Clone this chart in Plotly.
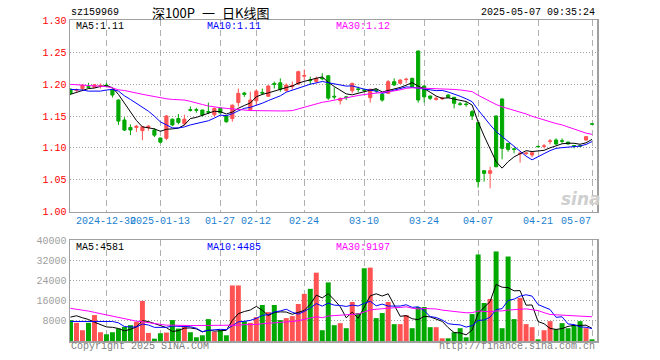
import plotly.graph_objects as go
import pandas as pd

W, H = 660, 360

dates = [
    "2024-12-20", "2024-12-23", "2024-12-24", "2024-12-25", "2024-12-26", "2024-12-27", "2024-12-30", "2024-12-31",
    "2025-01-02", "2025-01-03", "2025-01-06", "2025-01-07", "2025-01-08", "2025-01-09", "2025-01-10", "2025-01-13",
    "2025-01-14", "2025-01-15", "2025-01-16", "2025-01-17", "2025-01-20", "2025-01-21", "2025-01-22", "2025-01-23",
    "2025-01-24", "2025-01-27",
    "2025-02-05", "2025-02-06", "2025-02-07", "2025-02-10", "2025-02-11", "2025-02-12", "2025-02-13", "2025-02-14",
    "2025-02-17", "2025-02-18", "2025-02-19", "2025-02-20", "2025-02-21", "2025-02-24", "2025-02-25", "2025-02-26",
    "2025-02-27", "2025-02-28",
    "2025-03-03", "2025-03-04", "2025-03-05", "2025-03-06", "2025-03-07", "2025-03-10", "2025-03-11", "2025-03-12",
    "2025-03-13", "2025-03-14", "2025-03-17", "2025-03-18", "2025-03-19", "2025-03-20", "2025-03-21", "2025-03-24",
    "2025-03-25", "2025-03-26", "2025-03-27", "2025-03-28", "2025-03-31",
    "2025-04-01", "2025-04-02", "2025-04-03", "2025-04-07", "2025-04-08", "2025-04-09", "2025-04-10", "2025-04-11",
    "2025-04-14", "2025-04-15", "2025-04-16", "2025-04-17", "2025-04-18", "2025-04-21", "2025-04-22", "2025-04-23",
    "2025-04-24", "2025-04-25", "2025-04-28", "2025-04-29", "2025-04-30",
    "2025-05-06", "2025-05-07",
]

opens = [
    1.192, 1.190, 1.193, 1.196, 1.195, 1.197, 1.1985, 1.1917, 1.175, 1.1437,
    1.132, 1.132, 1.127, 1.132, 1.128, 1.1155, 1.115, 1.145, 1.146, 1.138,
    1.160, 1.160, 1.1594, 1.157, 1.152, 1.162, 1.150, 1.146, 1.171, 1.186,
    1.160, 1.174, 1.187, 1.181, 1.201, 1.202, 1.190, 1.196, 1.200, 1.2125,
    1.2065, 1.204, 1.2095, 1.213, 1.181, 1.174, 1.180, 1.1897, 1.1925, 1.191,
    1.1787, 1.191, 1.184, 1.1855, 1.2038, 1.2012, 1.2070, 1.209, 1.2519, 1.197,
    1.1813, 1.176, 1.177, 1.1829, 1.1793, 1.169, 1.1688, 1.1568, 1.1396, 1.0643,
    1.0601, 1.150, 1.1767, 1.1071, 1.0985, 1.0905, 1.0910, 1.0889, 1.1024, 1.1025,
    1.1103, 1.1124, 1.1112, 1.1092, 1.1035, 1.1033, 1.1124, 1.1377,
]
highs = [
    1.193, 1.193, 1.199, 1.202, 1.200, 1.201, 1.202, 1.193, 1.176, 1.148,
    1.137, 1.136, 1.134, 1.136, 1.131, 1.116, 1.1515, 1.146, 1.153, 1.152,
    1.165, 1.163, 1.1594, 1.171, 1.163, 1.163, 1.151, 1.168, 1.193, 1.188,
    1.188, 1.192, 1.193, 1.198, 1.204, 1.209, 1.201, 1.204, 1.221, 1.223,
    1.2117, 1.212, 1.217, 1.214, 1.195, 1.179, 1.181, 1.202, 1.196, 1.193,
    1.193, 1.193, 1.185, 1.2064, 1.209, 1.2075, 1.2100, 1.210, 1.2525, 1.1985,
    1.182, 1.181, 1.180, 1.184, 1.180, 1.172, 1.172, 1.1594, 1.140, 1.0645,
    1.0706, 1.151, 1.1775, 1.1075, 1.0993, 1.0941, 1.0941, 1.0930, 1.1035, 1.1061,
    1.1140, 1.1150, 1.1150, 1.1095, 1.1045, 1.1040, 1.1180, 1.1377,
]
lows = [
    1.183, 1.188, 1.189, 1.193, 1.194, 1.193, 1.195, 1.179, 1.136, 1.1265,
    1.120, 1.125, 1.112, 1.127, 1.117, 1.107, 1.112, 1.134, 1.137, 1.135,
    1.157, 1.155, 1.149, 1.153, 1.149, 1.154, 1.1395, 1.141, 1.1646, 1.180,
    1.158, 1.167, 1.183, 1.180, 1.193, 1.188, 1.188, 1.191, 1.199, 1.206,
    1.1986, 1.201, 1.206, 1.175, 1.176, 1.168, 1.175, 1.1855, 1.187, 1.188,
    1.171, 1.1855, 1.1725, 1.1845, 1.197, 1.200, 1.2012, 1.195, 1.171, 1.171,
    1.175, 1.174, 1.175, 1.178, 1.162, 1.166, 1.1645, 1.1437, 1.0377, 1.0471,
    1.0366, 1.0695, 1.0821, 1.0941, 1.0915, 1.0769, 1.0889, 1.0852, 1.1010, 1.0993,
    1.1056, 1.1045, 1.1070, 1.1055, 1.0993, 1.1020, 1.1110, 1.1373,
]
closes = [
    1.1855, 1.191, 1.1985, 1.195, 1.199, 1.198, 1.197, 1.1829, 1.142, 1.128,
    1.128, 1.134, 1.133, 1.134, 1.120, 1.109, 1.150, 1.136, 1.140, 1.145,
    1.159, 1.159, 1.1516, 1.156, 1.162, 1.155, 1.141, 1.167, 1.1855, 1.184,
    1.175, 1.189, 1.186, 1.197, 1.1995, 1.192, 1.1985, 1.198, 1.2195, 1.2135,
    1.2055, 1.209, 1.2085, 1.178, 1.180, 1.1777, 1.179, 1.2012, 1.1915, 1.190,
    1.1918, 1.190, 1.175, 1.2038, 1.1986, 1.2064, 1.2075, 1.1959, 1.1751, 1.180,
    1.1777, 1.1777, 1.178, 1.1793, 1.1699, 1.1685, 1.168, 1.150, 1.0471, 1.0601,
    1.0643, 1.0706, 1.0993, 1.0977, 1.0977, 1.0915, 1.0920, 1.0925, 1.1019, 1.1030,
    1.1108, 1.1061, 1.1105, 1.1061, 1.1029, 1.1028, 1.1176, 1.1373,
]
volumes = [
    8270, 7200, 4270, 7200, 10260, 3470, 2670, 3470, 4930, 5600,
    6270, 7600, 15860, 3200, 930, 3070, 3330, 8270, 4930, 5870,
    3470, 1470, 2270, 8670, 3600, 4270, 2270, 22000, 22000, 7870,
    7200, 9460, 14260, 11460, 14260, 8270, 9060, 9860, 14660, 18660,
    20660, 27060, 4270, 23200, 6270, 7070, 5070, 15460, 11060, 28800,
    29060, 9060, 11060, 15460, 6670, 6670, 10260, 5070, 13460, 13460,
    5470, 5470, 1070, 1070, 3470, 5070, 1470, 10660, 34260, 15060,
    16660, 35460, 5070, 33460, 8670, 17060, 6670, 5470, 670, 4270,
    7870, 4670, 7070, 5070, 6270, 7870, 5070, 670,
]

# moving-average values at the start of the window
price_ma5_head = [1.184, 1.187, 1.190, 1.193]
price_ma10_head = [1.1917, 1.1912, 1.1907, 1.189, 1.1886, 1.189, 1.1907, 1.1917, 1.189]
price_ma30_head = [1.1996, 1.199, 1.198, 1.1975, 1.197, 1.1965, 1.196, 1.194, 1.191, 1.190,
                   1.1875, 1.186, 1.184, 1.182, 1.180, 1.179, 1.177, 1.176, 1.1755, 1.175,
                   1.173, 1.171, 1.168, 1.1657, 1.164, 1.163, 1.162, 1.161, 1.1604]
vol_ma5_head = [9460, 10000, 9200, 8530]
vol_ma10_head = [7730, 7730, 8000, 8000, 8000, 7860, 7860, 7730, 7200]
vol_ma30_head = [12930, 12660, 12260, 11860, 11330, 10800, 10260, 9860, 9330, 8800,
                 8400, 7860, 7600, 7200, 6800, 6530, 6270, 6270, 6130, 6130,
                 6130, 6130, 6130, 6130, 6000, 6000, 6000, 6130, 6270]

price_ticks = [1.00, 1.05, 1.10, 1.15, 1.20, 1.25, 1.30]
price_tick_text = ["1.00", "1.05", "1.10", "1.15", "1.20", "1.25", "1.30"]
vol_ticks = [8000, 16000, 24000, 32000, 40000]
vol_tick_text = ["8000", "16000", "24000", "32000", "40000"]
date_ticks = ["2024-12-30", "2025-01-13", "2025-01-27", "2025-02-12", "2025-02-24",
              "2025-03-10", "2025-03-24", "2025-04-07", "2025-04-21", "2025-05-07"]
date_tick_text = ["2024-12-30", "2025-01-13", "01-27", "02-12", "02-24",
                  "03-10", "03-24", "04-07", "04-21", "05-07"]

code_text = "sz159969"
title_parts = ["深100P", "一", "日K线图"]
time_text = "2025-05-07 09:35:24"
price_legend = ["MA5:1.11", "MA10:1.11", "MA30:1.12"]
vol_legend = ["MA5:4581", "MA10:4485", "MA30:9197"]

RED = "#ff5252"
GREEN = "#00a800"
MA_COLORS = ["#000000", "#0000ff", "#ff00ff"]
MONO = "Liberation Mono"


def ma(values, n, head):
    s = pd.Series(values, dtype=float).rolling(n).mean().tolist()
    for k, v in enumerate(head):
        s[k] = v
    return s


fig = go.Figure()

fig.add_trace(go.Candlestick(
    x=dates, open=opens, high=highs, low=lows, close=closes,
    increasing=dict(line=dict(color=RED, width=1), fillcolor=RED),
    decreasing=dict(line=dict(color=GREEN, width=1), fillcolor=GREEN),
    whiskerwidth=0, xaxis="x", yaxis="y", showlegend=False, hoverinfo="skip",
))

for (n, head), col in zip([(5, price_ma5_head), (10, price_ma10_head), (30, price_ma30_head)], MA_COLORS):
    fig.add_trace(go.Scatter(x=dates, y=ma(closes, n, head), mode="lines",
                             line=dict(color=col, width=1), xaxis="x", yaxis="y",
                             showlegend=False, hoverinfo="skip"))

vol_colors = [RED if c >= o else GREEN for o, c in zip(opens, closes)]
fig.add_trace(go.Bar(x=dates, y=volumes, marker=dict(color=vol_colors, line=dict(width=0)),
                     width=0.83, xaxis="x2", yaxis="y2", showlegend=False, hoverinfo="skip"))

for (n, head), col in zip([(5, vol_ma5_head), (10, vol_ma10_head), (30, vol_ma30_head)], MA_COLORS):
    fig.add_trace(go.Scatter(x=dates, y=ma(volumes, n, head), mode="lines",
                             line=dict(color=col, width=1), xaxis="x2", yaxis="y2",
                             showlegend=False, hoverinfo="skip"))

X0, X1 = 70, 597
PY0, PY1 = 20.3, 211.7
VY0, VY1 = 240, 341
xrange = [-0.08, 87.83]

common_x = dict(type="category", range=xrange, tickvals=date_ticks, showticklabels=False,
                showgrid=True, gridcolor="#b0b0b0", griddash="6px,4px", gridwidth=1,
                showline=True, linecolor="#a0a0a0", linewidth=1.5, mirror=True,
                ticks="", zeroline=False, fixedrange=True)

fig.update_layout(
    width=W, height=H, margin=dict(l=0, r=0, t=0, b=0),
    paper_bgcolor="white", plot_bgcolor="white",
    font=dict(family=MONO, size=10, color="#000000"),
    boxgap=0.25,
    bargap=0.1,
    xaxis=dict(domain=[X0 / W, X1 / W], anchor="y", rangeslider=dict(visible=False), **common_x),
    yaxis=dict(domain=[1 - PY1 / H, 1 - PY0 / H], range=[1.0, 1.30], tickvals=price_ticks,
               ticktext=price_tick_text, tickfont=dict(color="#ff0000", family=MONO, size=10),
               showgrid=True, gridcolor="#a0a0a0", griddash="1px,2px", gridwidth=1,
               showline=True, linecolor="#a0a0a0", linewidth=1.5, mirror=True,
               ticks="", zeroline=False, fixedrange=True, anchor="x", automargin=False),
    xaxis2=dict(domain=[X0 / W, X1 / W], anchor="y2", matches="x", **common_x),
    yaxis2=dict(domain=[1 - VY1 / H, 1 - VY0 / H], range=[0, 40000], tickvals=vol_ticks,
                ticktext=vol_tick_text, tickfont=dict(color="#a0a0a0", family=MONO, size=10),
                showgrid=True, gridcolor="#a0a0a0", griddash="1px,2px", gridwidth=1,
                showline=True, linecolor="#a0a0a0", linewidth=1.5, mirror=True,
                ticks="", zeroline=False, fixedrange=True, anchor="x2", automargin=False),
)


def px_ann(text, x, y, color="#000000", xanchor="left", size=10, family=MONO, **kw):
    fig.add_annotation(text=text, x=x / W, y=1 - y / H, xref="paper", yref="paper",
                       xanchor=xanchor, yanchor="middle", showarrow=False,
                       font=dict(color=color, size=size, family=family), **kw)


px_ann(code_text, 69, 13)
for part, xx in zip(title_parts, [150, 200, 220]):
    px_ann(part, xx, 13, size=13, family="Noto Sans CJK SC")
px_ann(time_text, 597, 13, xanchor="right")

for txt, xx, col in zip(price_legend, [74, 205, 334], MA_COLORS):
    px_ann(txt, xx, 27, color=col)
for txt, xx, col in zip(vol_legend, [74, 205, 334], MA_COLORS):
    px_ann(txt, xx, 247, color=col)

px_ann("Copyright 2025 SINA.COM", 69, 346, color="#808080")
px_ann("http://finance.sina.com.cn", 597, 346, color="#808080", xanchor="right")
px_ann("<b><i>sina</i></b>", 581, 199, color="#cfcfcf", xanchor="center", size=17, family="DejaVu Sans")

for k, (d, t) in enumerate(zip(date_ticks, date_tick_text)):
    anchor = "right" if k == len(date_ticks) - 1 else "center"
    fig.add_annotation(text=t, x=d, xref="x", y=1 - 221 / H, yref="paper",
                       xanchor=anchor, yanchor="middle", showarrow=False,
                       xshift=1 if anchor == "right" else 0,
                       font=dict(color="#1a7fd0", size=10, family=MONO))

fig.write_html(
    "out.html",
    config={"displayModeBar": False, "staticPlot": True},
    post_script=("document.documentElement.style.margin='0';"
                 "document.documentElement.style.overflow='hidden';"
                 "document.body.style.margin='0';document.body.style.overflow='hidden';"),
)
